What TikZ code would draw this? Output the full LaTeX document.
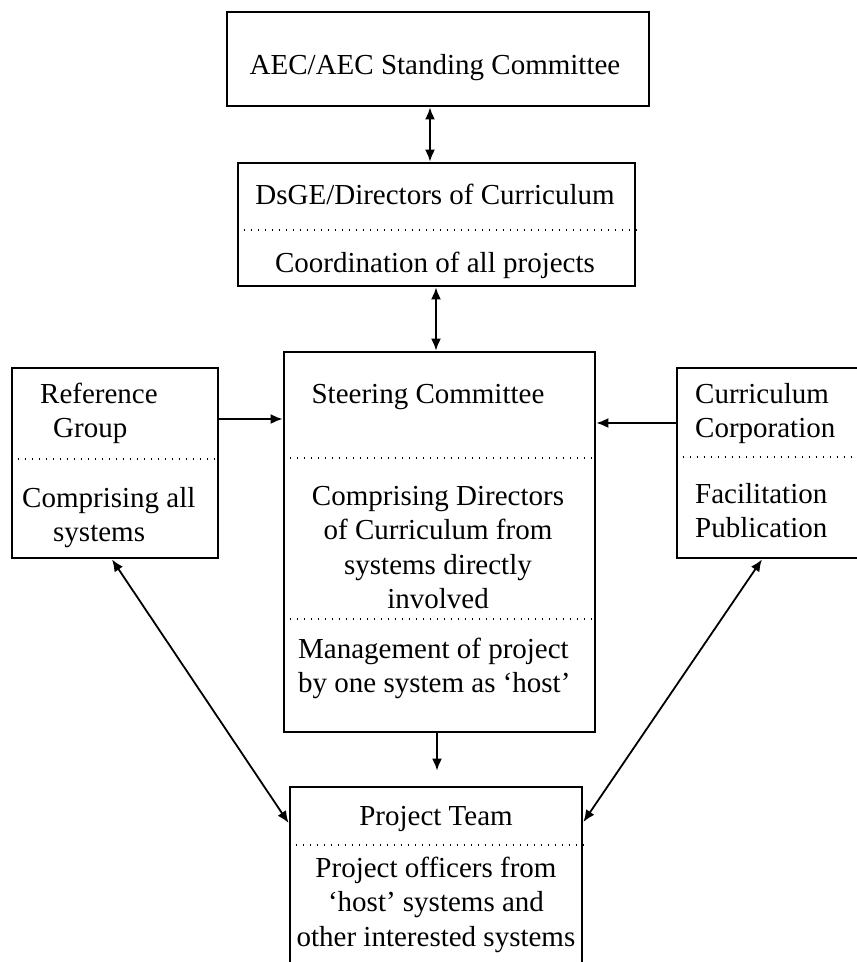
\documentclass[tikz,border=0pt]{standalone}
\usepackage{fontspec}
\setmainfont{Liberation Serif}
\usetikzlibrary{arrows.meta}

\begin{document}
\begin{tikzpicture}[x=1pt,y=-1pt,
  box/.style={draw,line width=2.8pt,rectangle,inner sep=0pt},
  lbl/.style={inner sep=0pt,font=\fontsize{29}{34.5}\selectfont},
  sep/.style={line width=1.5pt,dash pattern=on 1.5pt off 5.5pt},
  one/.style={line width=1.8pt,-{Latex[length=12pt,width=10pt]}},
  dbl/.style={line width=1.8pt,{Latex[length=12pt,width=10pt]}-{Latex[length=12pt,width=10pt]}}]

\useasboundingbox[fill=white] (0,0) rectangle (857,962);

% boxes
\node[box,minimum width=422pt,minimum height=94pt]  (aec)   at (438,59)    {};
\node[box,minimum width=397pt,minimum height=123pt] (dsge)  at (436.5,224.5) {};
\node[box,minimum width=206pt,minimum height=190pt] (ref)   at (115,463)   {};
\node[box,minimum width=311pt,minimum height=380pt] (steer) at (439.5,542) {};
\node[box,minimum width=190pt,minimum height=190pt] (curr)  at (772,463)   {};
\node[box,minimum width=292pt,minimum height=190pt] (team)  at (436,882)   {};

% section separators
\draw[sep] (dsge.west |- 0,230) -- (dsge.east |- 0,230);
\draw[sep] (ref.west |- 0,459) -- (ref.east |- 0,459);
\draw[sep] (steer.west |- 0,458) -- (steer.east |- 0,458);
\draw[sep] (steer.west |- 0,619) -- (steer.east |- 0,619);
\draw[sep] (curr.west |- 0,457) -- (curr.east |- 0,457);
\draw[sep] (team.west |- 0,845) -- (team.east |- 0,845);

% texts (multi-line nodes are anchored at the baseline of their last line)
\node[lbl,anchor=base] (taec) at (435,74) {AEC/AEC Standing Committee};
\node[lbl,anchor=base] (tdsge) at (435,204) {DsGE/Directors of Curriculum};
\node[lbl,anchor=base] (tcoord) at (435,272) {Coordination of all projects};
\node[lbl,anchor=base west,align=left] (tref) at (40,437.5) {Reference\\\hspace*{13pt}Group};
\node[lbl,anchor=base west,align=left] (tcomp) at (22,541.5) {Comprising all\\\hspace*{31pt}systems};
\node[lbl,anchor=base] (tsteer) at (428,403) {Steering Committee};
\node[lbl,anchor=base,align=center] (tdir) at (438,608.5) {Comprising Directors\\of Curriculum from\\systems directly\\involved};
\node[lbl,anchor=base west,align=left] (tman) at (298,692.5) {Management of project\\by one system as ‘host’};
\node[lbl,anchor=base west,align=left] (tcurr) at (695,437.5) {Curriculum\\Corporation};
\node[lbl,anchor=base west,align=left] (tfac) at (695,537.5) {Facilitation\\Publication};
\node[lbl,anchor=base] (tteam) at (436,825) {Project Team};
\node[lbl,anchor=base,align=center] (toff) at (436,946) {Project officers from\\‘host’ systems and\\other interested systems};

% connectors
\draw[dbl] (aec.south -| 430,0) -- (dsge.north -| 430,0);
\draw[dbl] (dsge.south -| 436,0) -- (steer.north -| 436,0);
\draw[one] (ref.east |- 0,419) -- (steer.west |- 0,419);
\draw[one] (curr.west |- 0,423) -- (steer.east |- 0,423);
\draw[one,shorten >=15pt] (steer.south -| 437,0) -- (team.north -| 437,0);
\draw[dbl] (ref.south -| 112,0) -- (team.west |- 0,823);
\draw[dbl] (curr.south -| 762,0) -- (team.east |- 0,822);
\end{tikzpicture}
\end{document}
